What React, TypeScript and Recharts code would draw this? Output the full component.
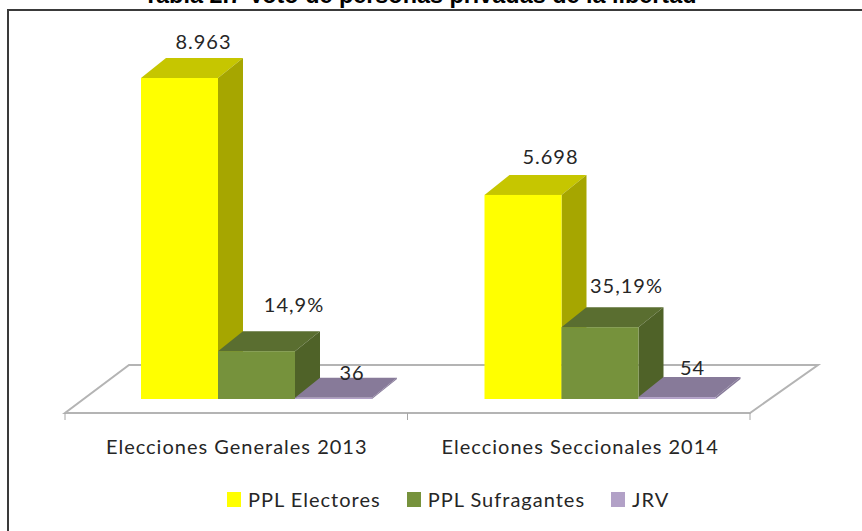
import { BarChart, Bar, XAxis, YAxis, Legend, LabelList } from "recharts";

const categories = ["Elecciones Generales 2013", "Elecciones Seccionales 2014"];
const electores = [8963, 5698];
// read as share of electores: 14,9% and 35,19%
const sufragantes = [1335, 2005];
const jrv = [36, 54];

const electoresLabels = ["8.963", "5.698"];
const sufragantesLabels = ["14,9%", "35,19%"];
const jrvLabels = ["36", "54"];
const legendOrder = ["PPL Electores", "PPL Sufragantes", "JRV"];

const data = categories.map((name, i) => ({
  name,
  electores: electores[i],
  sufragantes: sufragantes[i],
  jrv: jrv[i],
}));

const FONT = "Lato, sans-serif";
const TEXT = "#262626";
const DEPTH_X = 25;
const DEPTH_Y = 20;

const makeBox = (top: string, side: string) => (props: any) => {
  const { x, y, width, height, fill } = props;
  const r = x + width;
  const b = y + height;
  return (
    <g>
      <polygon
        points={`${x},${y} ${x + DEPTH_X},${y - DEPTH_Y} ${r + DEPTH_X},${y - DEPTH_Y} ${r},${y}`}
        fill={top}
      />
      <polygon
        points={`${r},${y} ${r + DEPTH_X},${y - DEPTH_Y} ${r + DEPTH_X},${b - DEPTH_Y} ${r},${b}`}
        fill={side}
      />
      <rect x={x} y={y} width={width} height={height} fill={fill} />
    </g>
  );
};

const makeLabel = (texts: string[], dx: number[], dy: number[]) => (props: any) => {
  const { x, y, width, index } = props;
  return (
    <text
      x={x + width / 2 + dx[index]}
      y={y + dy[index]}
      textAnchor="middle"
      dominantBaseline="central"
      fontFamily={FONT}
      fontSize={20}
      letterSpacing={1}
      fill={TEXT}
    >
      {texts[index]}
    </text>
  );
};

const Backdrop = () => (
  <g>
    <text
      x={420}
      y={3}
      textAnchor="middle"
      fontFamily="Liberation Sans, Arial, sans-serif"
      fontWeight="bold"
      fontSize={23.4}
      fill="#000"
    >
      Tabla 2.7 Voto de personas privadas de la libertad
    </text>
    <path d="M8,531 L8,10 L862,10" fill="none" stroke="#3a3a3a" strokeWidth={2} />
    <polygon
      points="65,413 750,413 818,365 129,365"
      fill="#fff"
      stroke="#b4b4b4"
      strokeWidth={2}
    />
    <path d="M65,413 L65,420 M407.5,413 L407.5,420 M750,413 L750,420" stroke="#a6a6a6" strokeWidth={1} />
  </g>
);

const CategoryTick = (props: any) => {
  const { x, y, payload } = props;
  return (
    <text
      x={x - 20}
      y={y + 39}
      textAnchor="middle"
      dominantBaseline="central"
      fontFamily={FONT}
      fontSize={20}
      letterSpacing={1}
      fill={TEXT}
    >
      {payload.value}
    </text>
  );
};

const LegendContent = (props: any) => {
  const payload = props.payload || [];
  const items = legendOrder
    .map((v) => payload.find((p: any) => p.value === v))
    .filter(Boolean);
  return (
    <div style={{ display: "flex", fontFamily: FONT, fontSize: 20, letterSpacing: 1, color: TEXT, lineHeight: "20px", whiteSpace: "nowrap" }}>
      {items.map((item: any) => (
        <div key={item.value} style={{ display: "flex", alignItems: "center", marginRight: 26 }}>
          <span style={{ width: 14, height: 15, background: item.color, marginRight: 7 }} />
          {item.value}
        </div>
      ))}
    </div>
  );
};

export default function App() {
  return (
    <div style={{ position: "absolute", left: 0, top: 0 }}>
      <BarChart
        width={862}
        height={531}
        data={data}
        barSize={77}
        barGap={0}
        margin={{ top: 78, right: 90, bottom: 72, left: 85 }}
      >
        <Backdrop />
        <XAxis dataKey="name" height={40} axisLine={false} tickLine={false} tick={<CategoryTick />} interval={0} />
        <YAxis hide domain={[0, 8963]} />
        <Legend
          verticalAlign="bottom"
          height={0}
          content={<LegendContent />}
          wrapperStyle={{ left: 227, top: 489, width: "auto" }}
        />
        <Bar
          dataKey="electores"
          name="PPL Electores"
          fill="#ffff00"
          shape={makeBox("#c6c600", "#a6a600")}
          isAnimationActive={false}
        >
          <LabelList content={makeLabel(electoresLabels, [24, 27.5], [-37, -39])} />
        </Bar>
        <Bar
          dataKey="sufragantes"
          name="PPL Sufragantes"
          fill="#76923c"
          shape={makeBox("#5a6e30", "#4f6228")}
          isAnimationActive={false}
        >
          <LabelList content={makeLabel(sufragantesLabels, [37.5, 26.5], [-47, -42])} />
        </Bar>
        <Bar
          dataKey="jrv"
          name="JRV"
          fill="#b2a1c7"
          shape={makeBox("#877a99", "#877a99")}
          isAnimationActive={false}
        >
          <LabelList content={makeLabel(jrvLabels, [18.5, 15.5], [-26, -30])} />
        </Bar>
      </BarChart>
    </div>
  );
}
